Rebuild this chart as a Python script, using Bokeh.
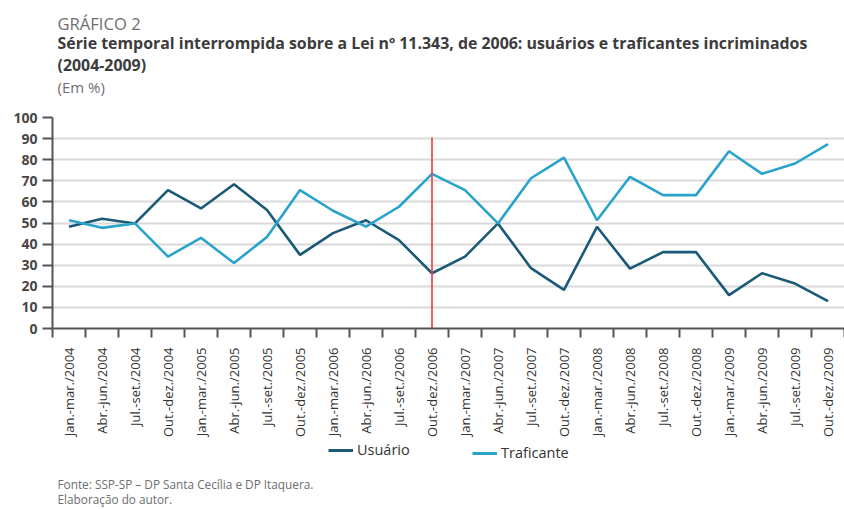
import math
from bokeh.plotting import figure
from bokeh.layouts import column
from bokeh.models import Range1d, FixedTicker, Legend, LegendItem, ColumnDataSource, Label
from bokeh.embed import file_html
from bokeh.resources import INLINE

# ---------------- data ----------------
periods = [
    "Jan.-mar./2004", "Abr.-jun./2004", "Jul.-set./2004", "Out.-dez./2004",
    "Jan.-mar./2005", "Abr.-jun./2005", "Jul.-set./2005", "Out.-dez./2005",
    "Jan.-mar./2006", "Abr.-jun./2006", "Jul.-set./2006", "Out.-dez./2006",
    "Jan.-mar./2007", "Abr.-jun./2007", "Jul.-set./2007", "Out.-dez./2007",
    "Jan.-mar./2008", "Abr.-jun./2008", "Jul.-set./2008", "Out.-dez./2008",
    "Jan.-mar./2009", "Abr.-jun./2009", "Jul.-set./2009", "Out.-dez./2009",
]
usuario = [48.2, 52.0, 49.8, 65.6, 56.9, 68.4, 56.2, 34.9, 45.2, 51.3, 41.9, 26.2,
           34.1, 49.8, 28.6, 18.3, 48.2, 28.4, 36.2, 36.2, 15.8, 26.2, 21.3, 13.0]
traficante = [51.3, 47.7, 49.8, 34.1, 43.0, 31.0, 43.4, 65.6, 55.8, 48.3, 57.7, 73.3,
              65.6, 49.8, 71.2, 81.0, 51.3, 71.9, 63.2, 63.2, 84.0, 73.3, 78.2, 87.4]
y_ticks = [0, 10, 20, 30, 40, 50, 60, 70, 80, 90, 100]
intervention_period = "Out.-dez./2006"
intervention_top = 90.5

title_kicker = "GRÁFICO 2"
title_main = "Série temporal interrompida sobre a Lei nº 11.343, de 2006: usuários e traficantes incriminados"
title_years = "(2004-2009)"
title_unit = "(Em %)"
footer_1 = "Fonte: SSP-SP – DP Santa Cecília e DP Itaquera."
footer_2 = "Elaboração do autor."

FONT = "Open Sans"
C_USU = "#1a5a78"
C_TRA = "#2aa3cb"
W = 844
n = len(periods)
idx = list(range(n))
src = ColumnDataSource(dict(x=idx, usuario=usuario, traficante=traficante))


def text_panel(height):
    f = figure(width=W, height=height, output_backend="svg", toolbar_location=None,
               x_axis_type=None, y_axis_type=None,
               x_range=Range1d(-0.5, n - 0.5), y_range=Range1d(-300, -200),
               min_border=0, min_border_left=0, min_border_right=0,
               min_border_top=0, min_border_bottom=0)
    f.outline_line_color = None
    f.xgrid.visible = False
    f.ygrid.visible = False
    f.background_fill_color = "white"
    f.border_fill_color = "white"
    return f


def add_text(f, txt, x, y, size, color, style="normal"):
    f.add_layout(Label(x=x, y=y, x_units="screen", y_units="screen", text=txt,
                       text_font=FONT, text_font_size=size, text_color=color,
                       text_font_style=style, text_baseline="alphabetic",
                       text_align="left"))


# ---------------- header (frames are aligned with the chart frame, left = 52) ----------------
top = text_panel(109)
add_text(top, title_kicker, 5, 86, "16.6px", "#6d6e71")
add_text(top, title_main, 5, 67, "15.9px", "#3c3c3c", "bold")
add_text(top, title_years, 5, 44.5, "15.9px", "#3c3c3c", "bold")
add_text(top, title_unit, 5, 22.5, "15px", "#6d6e71")

# ---------------- chart ----------------
p = figure(width=W, height=332,
           x_range=Range1d(-0.5, n - 0.5), y_range=Range1d(0, 100),
           output_backend="svg", toolbar_location=None,
           min_border_left=52, min_border_right=0,
           min_border_top=8, min_border_bottom=113)
p.outline_line_color = None
p.background_fill_color = "white"
p.border_fill_color = "white"

p.xgrid.visible = False
p.ygrid.ticker = FixedTicker(ticks=y_ticks)
p.ygrid.grid_line_color = "#d9d9d9"
p.ygrid.grid_line_width = 2

ya = p.yaxis[0]
ya.ticker = FixedTicker(ticks=y_ticks)
ya.axis_line_color = "#555555"
ya.axis_line_width = 2
ya.major_tick_line_color = "#555555"
ya.major_tick_line_width = 2
ya.major_tick_out = 10
ya.major_tick_in = 0
ya.minor_tick_line_color = None
ya.major_label_standoff = 5
ya.major_label_text_font = FONT
ya.major_label_text_font_size = "14px"
ya.major_label_text_font_style = "bold"
ya.major_label_text_color = "#4a4643"

xa = p.xaxis[0]
xa.ticker = FixedTicker(ticks=idx, minor_ticks=[i - 0.5 for i in range(n + 1)])
xa.major_label_overrides = {i: lab for i, lab in zip(idx, periods)}
xa.major_label_orientation = math.pi / 2
xa.axis_line_color = "#555555"
xa.axis_line_width = 2
xa.major_tick_out = 0
xa.major_tick_in = 0
xa.major_tick_line_color = None
xa.minor_tick_line_color = "#555555"
xa.minor_tick_line_width = 2
xa.minor_tick_out = 9
xa.minor_tick_in = 0
xa.major_label_standoff = 10
xa.major_label_text_font = FONT
xa.major_label_text_font_size = "13px"
xa.major_label_text_color = "#333333"

p.line("x", "usuario", source=src, line_color=C_USU, line_width=2.6)
p.line("x", "traficante", source=src, line_color=C_TRA, line_width=2.6)

ix = periods.index(intervention_period)
p.segment(x0=[ix], y0=[0], x1=[ix], y1=[intervention_top],
          line_color="#f0414b", line_width=2, line_alpha=0.85)

# ---------------- legend + footer ----------------
bot = text_panel(68)
# legend proxies: same series, drawn outside this panel's visible range
l_u = bot.line("x", "usuario", source=src, line_color=C_USU, line_width=3)
l_t = bot.line("x", "traficante", source=src, line_color=C_TRA, line_width=3)
for r, lab, loc in [(l_u, "Usuário", (276, 49.5)), (l_t, "Traficante", (420, 46.5))]:
    lg = Legend(items=[LegendItem(label=lab, renderers=[r])], location=loc,
                orientation="horizontal", padding=0, margin=0, spacing=0,
                glyph_width=25, glyph_height=20, label_standoff=4,
                border_line_color=None, background_fill_alpha=0,
                label_text_font=FONT, label_text_font_size="14.5px",
                label_text_color="#333333")
    bot.add_layout(lg)

add_text(bot, footer_1, 5, 25.4, "11.8px", "#6d6e71")
add_text(bot, footer_2, 5, 10.4, "11.8px", "#6d6e71")

layout = column(top, p, bot, spacing=0)
open("out.html", "w").write(file_html(layout, INLINE))
